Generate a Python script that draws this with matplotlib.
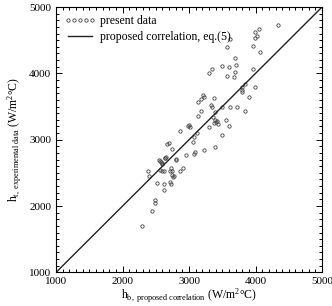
import numpy as np
import matplotlib
matplotlib.use('Agg')
import matplotlib.pyplot as plt
from matplotlib.ticker import MultipleLocator

plt.rcParams['font.family'] = ['Liberation Serif', 'DejaVu Serif']
plt.rcParams['mathtext.fontset'] = 'custom'
plt.rcParams['mathtext.rm'] = 'Liberation Serif'
plt.rcParams['mathtext.it'] = 'Liberation Serif:italic'

# h_b from proposed correlation vs h_t measured (W/m2C)
h_pred = [4340, 4050, 3990, 4020, 3990, 3965, 4070, 3620, 3570, 3690,
          3710, 3605, 3490, 3350, 3305, 3695, 3680, 3575, 3965, 3845,
          3800, 3795, 3800, 3990, 3900, 3835, 3725, 3615, 3490, 3560,
          3595, 3490, 3395, 3370, 3335, 3340, 3390, 3360, 3390, 3410,
          3370, 3430, 3420, 3295, 3220, 3180, 3205, 3140, 3175, 3135,
          2985, 3015, 3000, 2870, 3125, 3070, 3055, 3220, 3090, 3070,
          2705, 2675, 2295, 2445, 2480, 2480, 2380, 2400, 2520, 2625,
          2620, 2715, 2735, 2555, 2575, 2600, 2650, 2640, 2600, 2625,
          2730, 2745, 2715, 2750, 2760, 2775, 2800, 2805, 2860, 2915,
          2955, 2745, 2565, 2590, 2560, 2640]
h_exp = [4730, 4665, 4620, 4565, 4540, 4415, 4325, 4525, 4395, 4235,
         4130, 4100, 4110, 4070, 4000, 4025, 3945, 3955, 4065, 3840,
         3790, 3750, 3720, 3795, 3645, 3435, 3495, 3490, 3495, 3290,
         3200, 3075, 2895, 3625, 3525, 3490, 3425, 3345, 3300, 3270,
         3250, 3240, 3280, 3195, 3650, 3615, 3675, 3575, 3435, 3350,
         3210, 3190, 3220, 3125, 3095, 3040, 2965, 2850, 2820, 2785,
         2955, 2935, 1700, 1920, 2085, 2040, 2525, 2450, 2340, 2335,
         2245, 2365, 2325, 2695, 2665, 2635, 2740, 2720, 2535, 2535,
         2575, 2535, 2530, 2470, 2440, 2455, 2710, 2690, 2535, 2570,
         2765, 2865, 2550, 2650, 2675, 2725]

line_x = [1000, 5000]

fig = plt.figure(figsize=(3.32, 3.06), dpi=100)
ax = fig.add_axes([0.169, 0.11, 0.801, 0.867])

ax.plot(h_pred, h_exp, 'o', ms=2.4, mfc='none', mec='#444444', mew=0.6,
        label='present data')
ax.plot(line_x, line_x, '-', color='#222222', lw=1.0,
        label='proposed correlation, eq.(5)')

ax.set_xlim(1000, 5000)
ax.set_ylim(1000, 5000)
ax.xaxis.set_major_locator(MultipleLocator(1000))
ax.yaxis.set_major_locator(MultipleLocator(1000))
ax.xaxis.set_minor_locator(MultipleLocator(100))
ax.yaxis.set_minor_locator(MultipleLocator(100))
ax.tick_params(which='both', direction='in', top=True, right=True,
               labelsize=8, width=0.7)
ax.tick_params(which='major', length=4)
ax.tick_params(which='minor', length=2)
for s in ax.spines.values():
    s.set_linewidth(0.8)

ax.set_xlabel(r'h$_{\rm b,\ proposed\ correlation}$ (W/m$^{\rm 2}$°C)',
              fontsize=8.5, labelpad=0.5)
ax.set_ylabel(r'h$_{\rm t,\ experimental\ data}$ (W/m$^{\rm 2}$°C)',
              fontsize=8.5, labelpad=4)

ax.legend(loc='upper left', numpoints=5, frameon=False, fontsize=8.5,
          handlelength=2.6, handletextpad=0.4, borderaxespad=0.3,
          labelspacing=0.3)

fig.savefig('out.png', dpi=100)
